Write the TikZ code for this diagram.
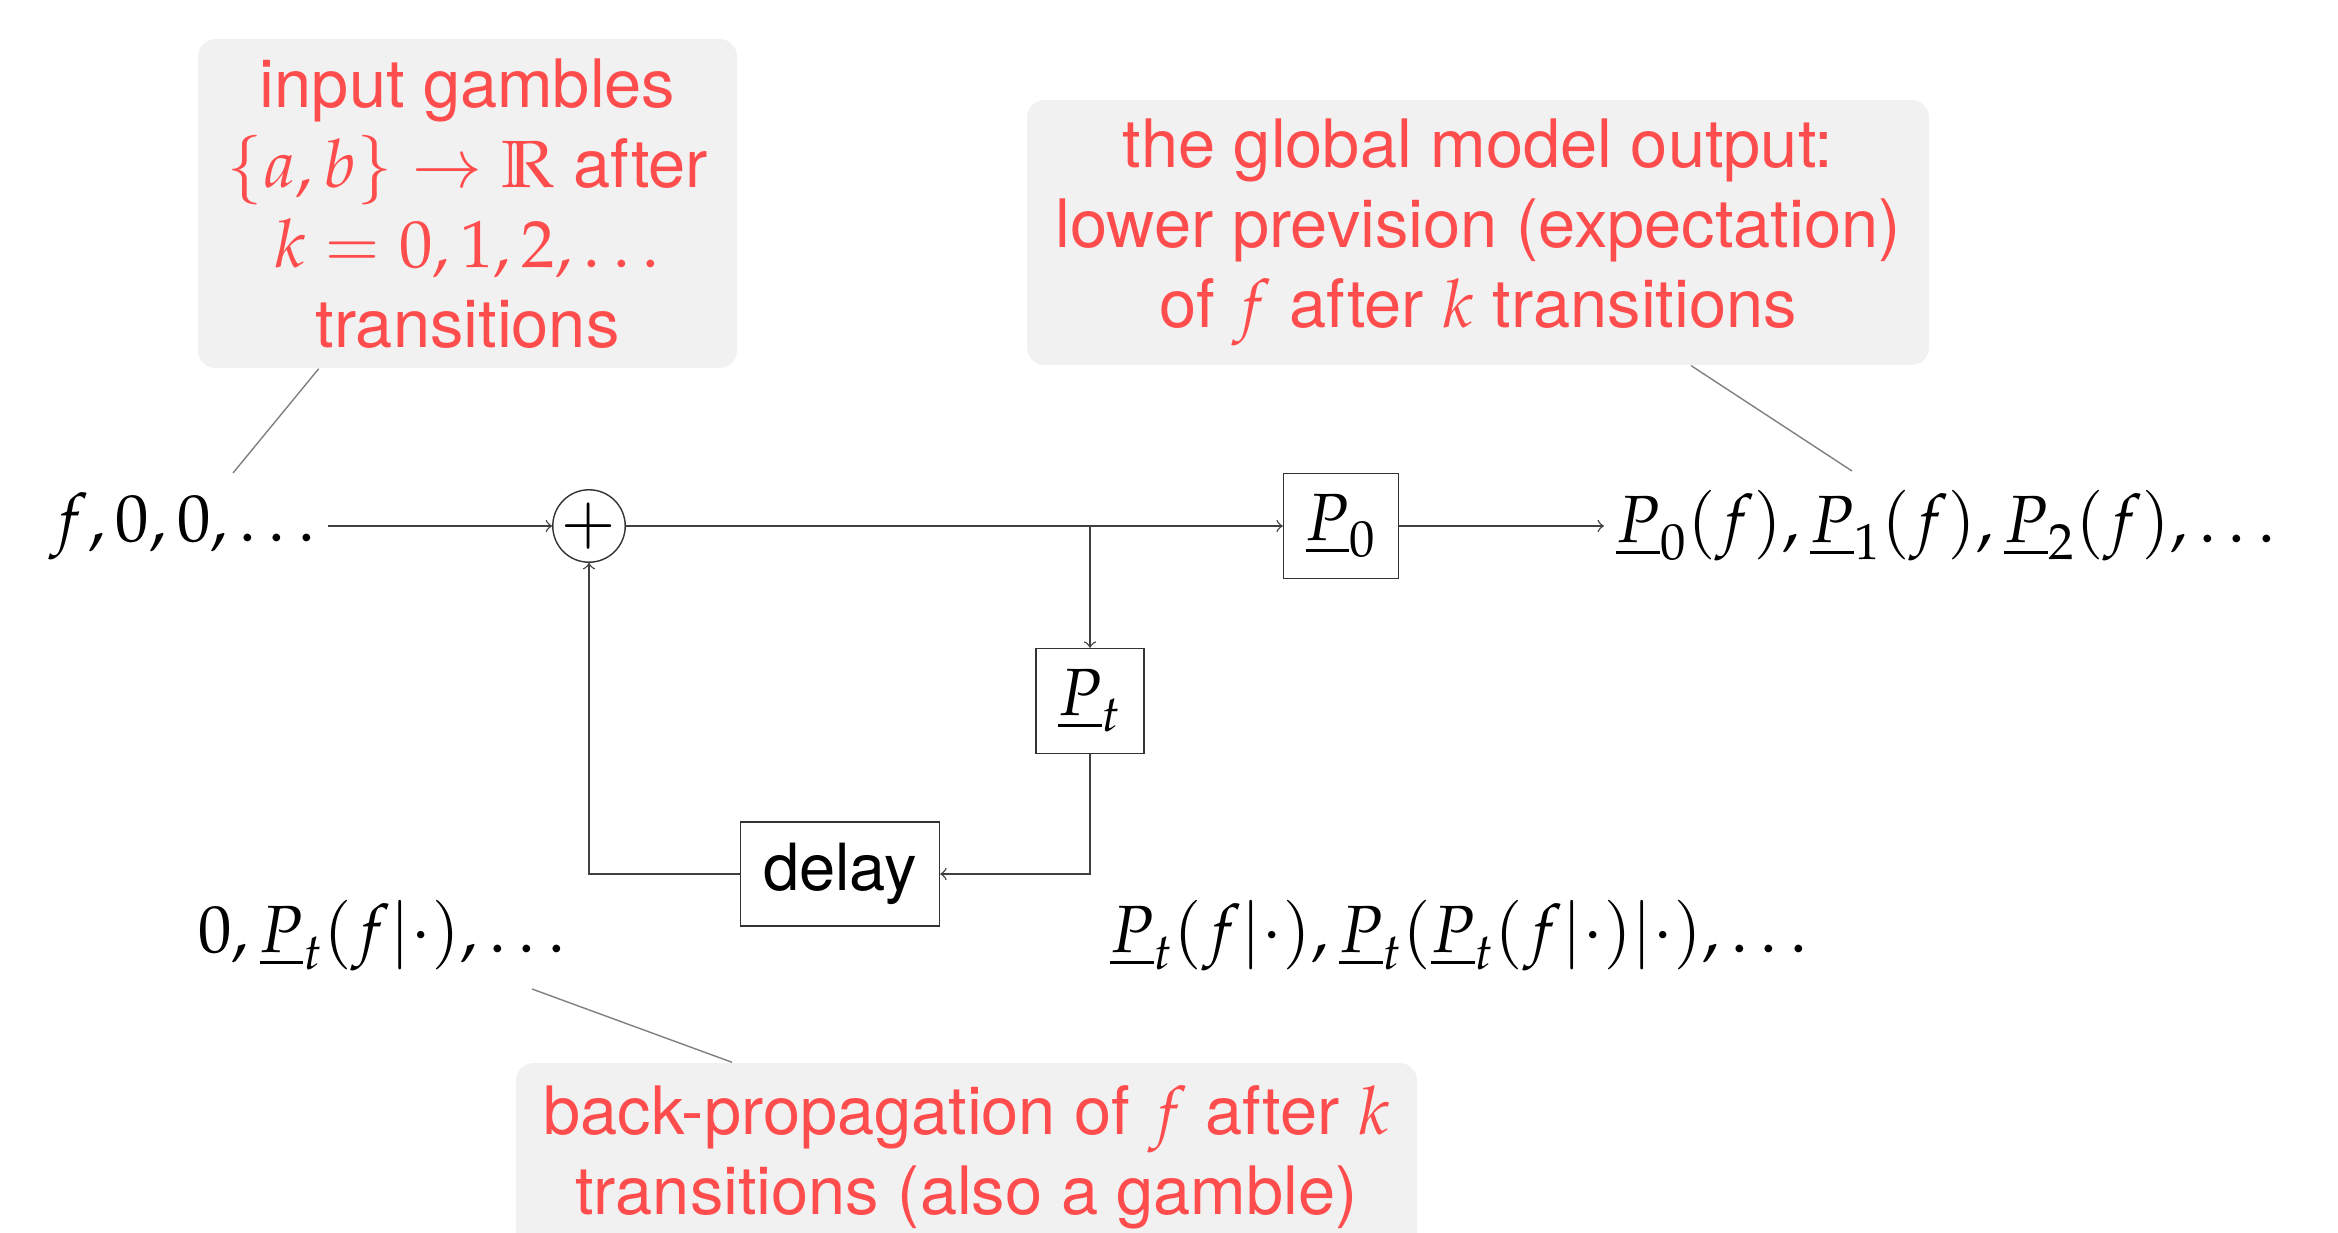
\documentclass[tikz,border=0pt]{standalone}
\usepackage{mathpazo}
\usepackage[no-math]{fontspec}
\setmainfont{TeX Gyre Heros}
\definecolor{notered}{RGB}{255,77,77}
\definecolor{notebg}{RGB}{241,241,241}
\newcommand{\lowprev}{\underline{P}}
\begin{document}
\begin{tikzpicture}[every node/.style={font=\fontsize{19}{22.8}\selectfont},
  blockbox/.style={draw=black!80, minimum height=1.05cm, inner sep=0pt},
  sumnode/.style={draw=black!80, circle, minimum size=0.7cm, inner sep=0pt},
  note/.style={fill=notebg, rounded corners=5pt, text=notered, align=center, inner sep=0pt},
  link/.style={black!75, ->},
  pinline/.style={gray}]
\useasboundingbox (0,0) rectangle (23.38,-12.33);
% signal path
\node (in) at (1.83,-5.26) {$f,0,0,\ldots$};
\node[sumnode] (sum) at (5.89,-5.26) {$+$};
\node[blockbox, minimum width=1.15cm] (p0) at (13.41,-5.26) {$\lowprev_0$};
\node[blockbox, minimum width=1.08cm] (pt) at (10.90,-7.01) {$\lowprev_t$};
\node[blockbox, minimum width=1.99cm, minimum height=1.04cm] (delay) at (8.40,-8.74) {\fontsize{18.5}{20}\selectfont delay};
\node (out) at (19.46,-5.26) {$\lowprev_0(f),\lowprev_1(f),\lowprev_2(f),\ldots$};
\node (back) at (3.82,-9.36) {$0,\lowprev_t(f|\cdot),\ldots$};
\node (iter) at (14.59,-9.36) {$\lowprev_t(f|\cdot),\lowprev_t(\lowprev_t(f|\cdot)|\cdot),\ldots$};
\coordinate (split) at (pt |- sum);
\draw[link] (in) -- (sum);
\draw[link] (sum) -- (p0);
\draw[link] (split) -- (pt);
\draw[link] (p0) -- (out);
\draw[link] (pt) |- (delay);
\draw[link] (delay) -| (sum);
% notes
\node[note, minimum width=5.39cm, minimum height=3.29cm] (gamblenote) at (4.675,-2.035)
  {input gambles\\ $\{a,b\}\to\mathbb{R}$ after\\ $k=0,1,2,\ldots$\\ transitions};
\node[note, minimum width=9.02cm, minimum height=2.65cm] (outnote) at (14.78,-2.325)
  {the global model output:\\ lower prevision (expectation)\\ of $f$ after $k$ transitions};
\node[note, minimum width=9.01cm, minimum height=1.88cm] (backnote) at (9.665,-11.57)
  {back-propagation of $f$ after $k$\\ transitions (also a gamble)};
\coordinate (inpin) at (2.33,-4.73);
\coordinate (outpin) at (18.52,-4.71);
\coordinate (backpin) at (5.32,-9.89);
\draw[pinline] (gamblenote.228.5) -- (inpin);
\draw[pinline] (outnote.328) -- (outpin);
\draw[pinline] (backnote.158) -- (backpin);
\end{tikzpicture}
\end{document}
